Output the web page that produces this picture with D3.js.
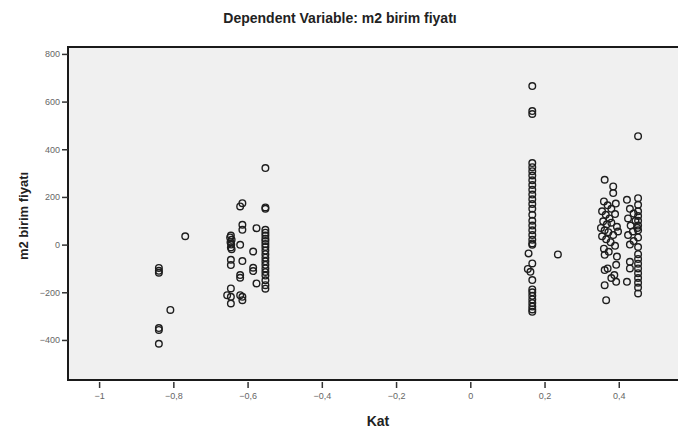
<!DOCTYPE html>
<html>
<head>
<meta charset="utf-8">
<script src="https://d3js.org/d3.v7.min.js"></script>
<style>
  body { margin: 0; background: #fff; }
  svg { display: block; }
</style>
</head>
<body>
<script>
var width = 678,
    height = 440;

const title = "Dependent Variable: m2 birim fiyatı";
const xLabel = "Kat";
const yLabel = "m2 birim fiyatı";

const xTicks = [-1, -0.8, -0.6, -0.4, -0.2, 0, 0.2, 0.4];
const yTicks = [-400, -200, 0, 200, 400, 600, 800];

// points, [Kat, m2 birim fiyatı]
const groupLeft = [
    [-0.839, -98], [-0.839, -110], [-0.839, -118],
    [-0.839, -350], [-0.839, -358], [-0.839, -416],
    [-0.808, -274], [-0.768, 35]
];

const groupMid = [
    [-0.645, 38], [-0.647, 30], [-0.643, 20], [-0.646, 10], [-0.644, 0], [-0.645, -12], [-0.643, -20],
    [-0.645, -64], [-0.645, -86], [-0.645, -184], [-0.655, -212], [-0.645, -219], [-0.645, -247],
    [-0.62, 160], [-0.614, 174], [-0.614, 83], [-0.614, 62], [-0.62, -1], [-0.614, -69],
    [-0.62, -128], [-0.62, -139], [-0.62, -212], [-0.614, -219], [-0.614, -233],
    [-0.585, -29], [-0.585, -97], [-0.585, -111], [-0.576, 69], [-0.576, -163]
];

const groupMidCol = [
    [-0.552, 321], [-0.552, 156], [-0.552, 150], [-0.552, 62], [-0.552, 50], [-0.552, 38],
    [-0.552, 25], [-0.552, 15], [-0.552, 3], [-0.552, -10], [-0.552, -25], [-0.552, -40],
    [-0.552, -55], [-0.552, -70], [-0.552, -85], [-0.552, -100], [-0.552, -115], [-0.552, -130],
    [-0.552, -150], [-0.552, -170], [-0.552, -185]
];

const groupRightCol = [
    [0.167, 665], [0.167, 560], [0.167, 548], [0.167, 342], [0.167, 325], [0.167, 308],
    [0.167, 290], [0.167, 270], [0.167, 250], [0.167, 230], [0.167, 210], [0.167, 190],
    [0.167, 170], [0.167, 150], [0.167, 125], [0.167, 100], [0.167, 80], [0.167, 60],
    [0.167, 40], [0.167, 20], [0.167, 5], [0.167, -1], [0.157, -37], [0.167, -79],
    [0.155, -102], [0.162, -114], [0.167, -149], [0.167, -188], [0.167, -200], [0.167, -215],
    [0.167, -230], [0.167, -245], [0.167, -260], [0.167, -272], [0.167, -282],
    [0.236, -41]
];

const groupRight = [
    [0.362, 272], [0.385, 244], [0.385, 216], [0.36, 181], [0.37, 165], [0.38, 150],
    [0.392, 172], [0.355, 140], [0.365, 125], [0.375, 110], [0.39, 128], [0.358, 98],
    [0.368, 85], [0.38, 92], [0.395, 75], [0.352, 70], [0.362, 60], [0.372, 52],
    [0.385, 40], [0.398, 55], [0.355, 35], [0.366, 22], [0.378, 10], [0.39, -5],
    [0.36, -17], [0.373, -30], [0.362, -43], [0.395, -50], [0.362, -107], [0.393, -85],
    [0.388, -128], [0.393, -156], [0.362, -170], [0.366, -233], [0.38, -140], [0.37, -100]
];

const groupFarRight = [
    [0.452, 455], [0.422, 188], [0.452, 195], [0.452, 167], [0.43, 150], [0.44, 130],
    [0.425, 110], [0.445, 100], [0.432, 80], [0.45, 70], [0.438, 55], [0.425, 40],
    [0.452, 30], [0.44, 15], [0.43, 0], [0.452, -10], [0.43, -72], [0.43, -100],
    [0.422, -156], [0.452, 140], [0.452, 120], [0.452, 100], [0.452, 80], [0.452, 60],
    [0.452, -40], [0.452, -60], [0.452, -80], [0.452, -100], [0.452, -120], [0.452, -140],
    [0.452, -160], [0.452, -180], [0.452, -205]
];

const points = [].concat(groupLeft, groupMid, groupMidCol, groupRightCol, groupRight, groupFarRight);

const plot = { left: 68, right: 690, top: 47, bottom: 380 };

var x = d3.scaleLinear()
    .domain([-1.0838, 0.5919])
    .range([plot.left, plot.right]);

var y = d3.scaleLinear()
    .domain([-568, 829])
    .range([plot.bottom, plot.top]);

const fmt = (v) => d3.format("")(v).replace(".", ",");

var svg = d3.select("body")
    .append("svg")
    .attr("width", width)
    .attr("height", height)
    .style("font-family", "'Liberation Sans', Arial, sans-serif");

// plot background
svg.append("rect")
    .attr("x", plot.left)
    .attr("y", plot.top)
    .attr("width", plot.right - plot.left)
    .attr("height", plot.bottom - plot.top)
    .attr("fill", "#f0f0f0")
    .attr("stroke", "#1a1a1a")
    .attr("stroke-width", 2);

// title
svg.append("text")
    .attr("x", 340)
    .attr("y", 23)
    .attr("text-anchor", "middle")
    .attr("font-size", "14px")
    .attr("font-weight", "bold")
    .attr("fill", "#222")
    .text(title);

// y axis
var yAxis = svg.append("g")
    .attr("transform", "translate(" + plot.left + ",0)")
    .call(d3.axisLeft(y).tickValues(yTicks).tickSize(6).tickPadding(2).tickFormat(fmt));
yAxis.select(".domain").remove();
yAxis.selectAll(".tick line").attr("stroke", "#333").attr("stroke-width", 1.5);
yAxis.selectAll(".tick text").attr("fill", "#666").attr("font-size", "9px");

// x axis
var xAxis = svg.append("g")
    .attr("transform", "translate(0," + plot.bottom + ")")
    .call(d3.axisBottom(x).tickValues(xTicks).tickSize(0).tickPadding(13).tickFormat(fmt));
xAxis.select(".domain").remove();
xAxis.selectAll(".tick line").remove();
xAxis.selectAll(".tick").append("line")
    .attr("y1", 2)
    .attr("y2", 8)
    .attr("stroke", "#333")
    .attr("stroke-width", 1.5);
xAxis.selectAll(".tick text").attr("fill", "#666").attr("font-size", "9px");

// axis labels
svg.append("text")
    .attr("x", 378)
    .attr("y", 426)
    .attr("text-anchor", "middle")
    .attr("font-size", "14px")
    .attr("font-weight", "bold")
    .attr("fill", "#222")
    .text(xLabel);

svg.append("text")
    .attr("transform", "translate(28,216) rotate(-90)")
    .attr("text-anchor", "middle")
    .attr("font-size", "13px")
    .attr("font-weight", "bold")
    .attr("fill", "#222")
    .text(yLabel);

// points
svg.append("g")
    .selectAll("circle")
    .data(points)
    .enter()
    .append("circle")
    .attr("cx", function (d) { return x(d[0]); })
    .attr("cy", function (d) { return y(d[1]); })
    .attr("r", 3.3)
    .attr("fill", "none")
    .attr("stroke", "#1e1e1e")
    .attr("stroke-width", 1.4);
</script>
</body>
</html>
